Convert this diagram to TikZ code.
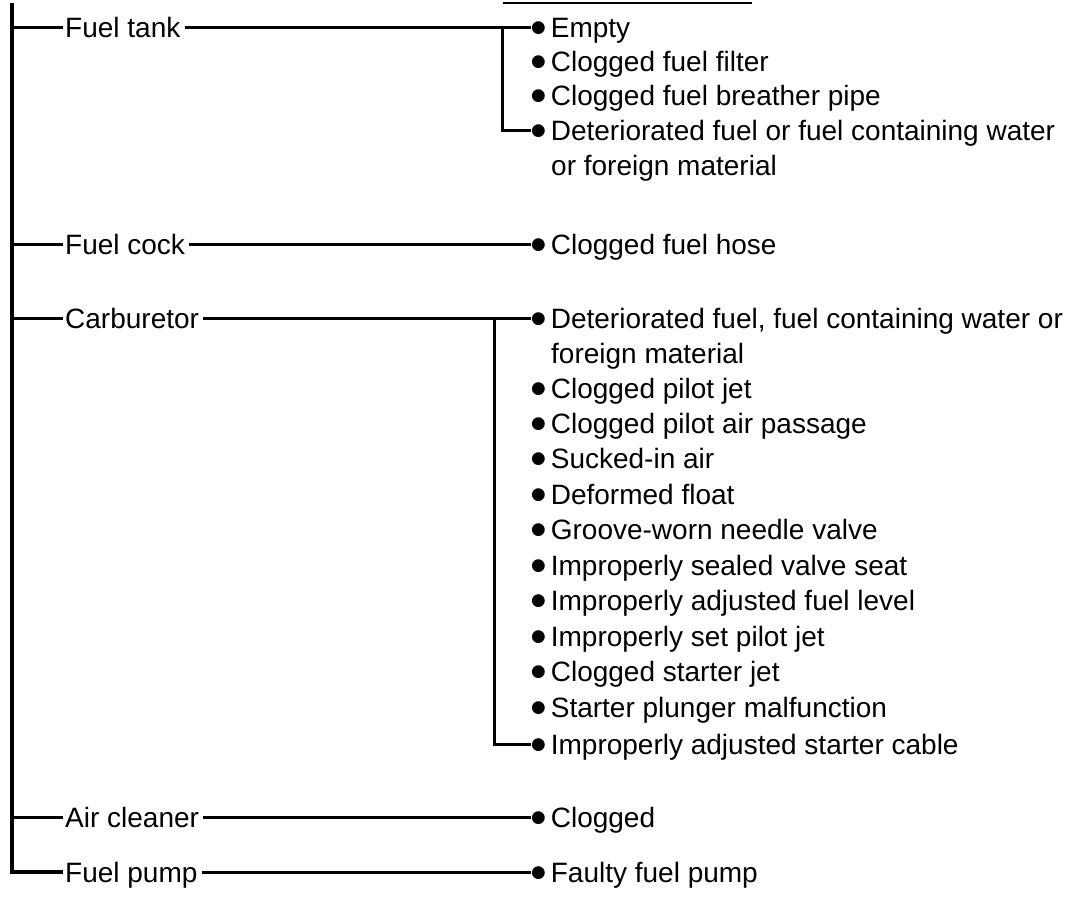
\documentclass[tikz,border=0pt]{standalone}
\usepackage{graphicx}
\usepackage{fontspec}
\setmainfont{Liberation Sans}
\newfontfamily\bulfont{DejaVu Sans}
\usetikzlibrary{positioning}
\tikzset{
    part/.style={
        inner sep=0pt, anchor=west, text height=20pt, text depth=0pt,
        font=\fontsize{28}{35}\selectfont
    },
    cause/.style={part},
    link/.style={line width=3pt},
    spine/.style={line width=3.6pt},
    rule/.style={line width=1.2pt}
}
\newcommand{\bul}{\raisebox{4.6pt}{\scalebox{0.6}{\bulfont ●}}\hspace{5pt}}

\begin{document}
\begin{tikzpicture}[x=1pt, y=-1pt]
    \useasboundingbox (0,0) rectangle (1072,905);
    \coordinate (top) at (12,3);
    \coordinate (hdA) at (503,3);
    \coordinate (hdB) at (752,3);

    % parts
    \node[part] (tank) at (65,27) {Fuel tank};
    \node[part] (cock) at (65,244) {Fuel cock};
    \node[part] (carb) at (65,318) {Carburetor};
    \node[part] (air) at (65,817) {Air cleaner};
    \node[part] (pump) at (65,872) {Fuel pump};

    % causes
    \node[cause] (tankA) at (531,27) {\bul Empty};
    \node[cause] (tankB) at (531,61) {\bul Clogged fuel filter};
    \node[cause] (tankC) at (531,95) {\bul Clogged fuel breather pipe};
    \node[cause] (tankD) at (531,130) {\bul Deteriorated fuel or fuel containing water};
    \node[cause] (tankE) at (551,165) {or foreign material};

    \node[cause] (cockA) at (531,244) {\bul Clogged fuel hose};

    \node[cause] (carbA) at (531,318) {\bul Deteriorated fuel, fuel containing water or};
    \node[cause] (carbB) at (551,353) {foreign material};
    \node[cause] (carbC) at (531,388) {\bul Clogged pilot jet};
    \node[cause] (carbD) at (531,423) {\bul Clogged pilot air passage};
    \node[cause] (carbE) at (531,458) {\bul Sucked-in air};
    \node[cause] (carbF) at (531,494) {\bul Deformed float};
    \node[cause] (carbG) at (531,529) {\bul Groove-worn needle valve};
    \node[cause] (carbH) at (531,565) {\bul Improperly sealed valve seat};
    \node[cause] (carbI) at (531,600) {\bul Improperly adjusted fuel level};
    \node[cause] (carbJ) at (531,636) {\bul Improperly set pilot jet};
    \node[cause] (carbK) at (531,671) {\bul Clogged starter jet};
    \node[cause] (carbL) at (531,707) {\bul Starter plunger malfunction};
    \node[cause] (carbM) at (531,744) {\bul Improperly adjusted starter cable};

    \node[cause] (airA) at (531,817) {\bul Clogged};
    \node[cause] (pumpA) at (531,872) {\bul Faulty fuel pump};

    % header rule
    \draw[rule] (hdA) -- (hdB);

    % spine
    \draw[spine, shorten >=2pt] (top) -- (top |- pump.west) -- (pump.west);
    \draw[link, shorten >=2pt] (top |- tank.west) -- (tank.west);
    \draw[link, shorten >=2pt] (top |- cock.west) -- (cock.west);
    \draw[link, shorten >=2pt] (top |- carb.west) -- (carb.west);
    \draw[link, shorten >=2pt] (top |- air.west) -- (air.west);

    % branches
    \draw[link, shorten <=4pt] (tank.east) -- (tankA.west);
    \draw[link] ([xshift=-29pt]tankA.west) |- (tankD.west);
    \draw[link, shorten <=4pt] (cock.east) -- (cockA.west);
    \draw[link, shorten <=4pt] (carb.east) -- (carbA.west);
    \draw[link] ([xshift=-37pt]carbA.west) |- (carbM.west);
    \draw[link, shorten <=4pt] (air.east) -- (airA.west);
    \draw[link, shorten <=4pt] (pump.east) -- (pumpA.west);
\end{tikzpicture}
\end{document}
